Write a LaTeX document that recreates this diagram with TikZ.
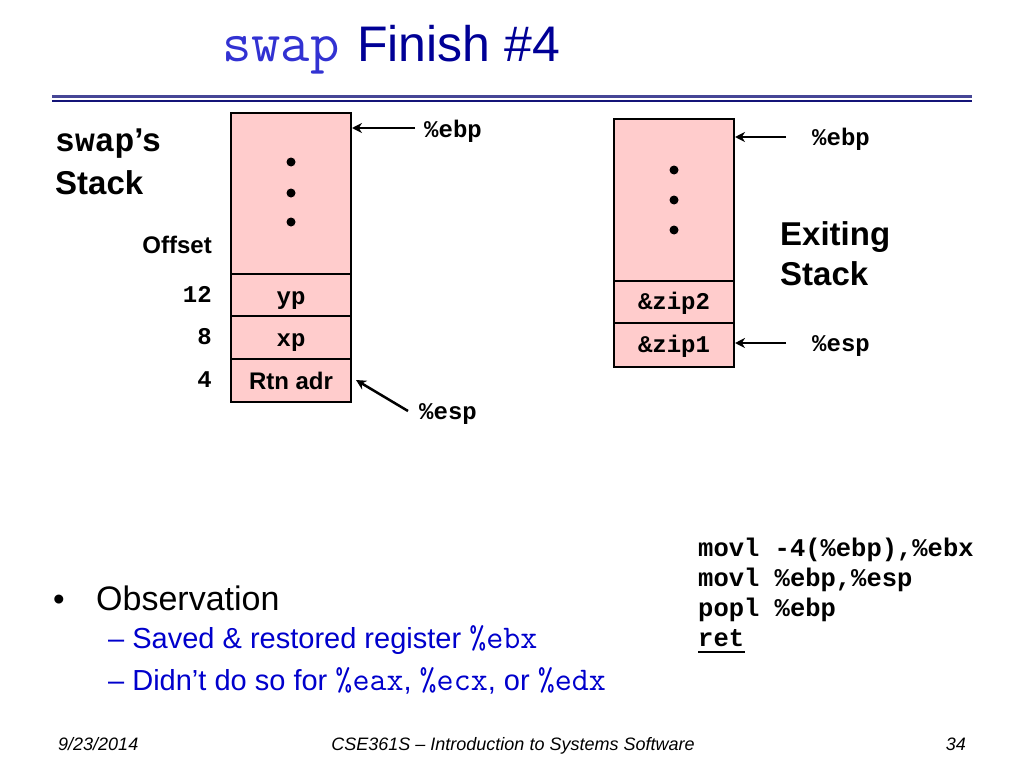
\documentclass[tikz,border=0pt]{standalone}
\usepackage{fontspec}
\setmainfont{Liberation Sans}
\setsansfont{Liberation Sans}
\setmonofont{Liberation Mono}
\newfontfamily\lmmono{Latin Modern Mono}[Scale=1.14]
\usetikzlibrary{arrows.meta}
\definecolor{navyT}{RGB}{0,0,150}
\definecolor{blueT}{RGB}{50,50,210}
\definecolor{bulblue}{RGB}{0,0,204}
\definecolor{cellpink}{RGB}{255,204,204}
\definecolor{rule1}{RGB}{70,70,150}
\definecolor{rule2}{RGB}{20,20,120}
\newcommand{\fs}[1]{\fontsize{#1}{#1}\selectfont}
\begin{document}
\begin{tikzpicture}[x=1pt,y=-1pt,
  cell/.style={draw=black,line width=2pt,fill=cellpink,minimum width=120pt,inner sep=0pt,font=\fs{24}\bfseries,text height=22pt,text depth=4pt},
  mcell/.style={cell,font=\fs{24}\ttfamily\bfseries},
  rcell/.style={mcell,text height=20pt,text depth=6pt},
  reglab/.style={font=\fs{24}\ttfamily\bfseries,inner sep=0pt},
  arr/.style={line width=2.5pt,-{Stealth[length=10pt,width=10pt]}},
  dotm/.style={circle,fill=black,inner sep=0pt,minimum size=9pt},
  offs/.style={anchor=base east,font=\fs{24}\ttfamily\bfseries,inner sep=0pt},
  txt/.style={inner sep=0pt,anchor=base west}]
\useasboundingbox (0,0) rectangle (1024,768);
% title
\node[txt,text=blueT,font=\fs{50}\lmmono] (title1) at (222,62) {swap};
\node[txt,text=navyT,font=\fs{50}\sffamily] (title2) at (357,62) {Finish \#4};
\draw[rule1,line width=3pt] (52,96.5) -- (972,96.5);
\draw[rule2,line width=2pt] (52,100.5) -- (972,100.5);
% left stack
\node[cell,minimum height=161pt] (ltop) at (291,193.5) {};
\node[mcell,minimum height=42pt] (lyp) at (291,295) {yp};
\node[mcell,minimum height=43pt] (lxp) at (291,337.5) {xp};
\node[cell,minimum height=43pt] (lrtn) at (291,380.5) {Rtn adr};
\node[dotm] (ld1) at (291,162) {};
\node[dotm] (ld2) at (291,193) {};
\node[dotm] (ld3) at (291,222) {};
\node[txt] (swaps) at (55,151) {\fs{33}\ttfamily\bfseries swap\sffamily’s};
\node[txt] (stackL) at (55,194) {\fs{33}\bfseries Stack};
\node[offs,font=\fs{24}\bfseries] (offset) at (212,253) {Offset};
\node[offs] (o12) at (212,302) {12};
\node[offs] (o8) at (212,344) {8};
\node[offs] (o4) at (212,387) {4};
\node[reglab,anchor=west] (ebpL) at (424,131) {\%ebp};
\coordinate (ebpLs) at (415,128);
\draw[arr] (ebpLs) -- (ebpLs -| ltop.east);
\node[reglab,anchor=west] (espL) at (419,414) {\%esp};
\coordinate (espLs) at (408,411);
\coordinate (espLe) at (356,380);
\draw[arr] (espLs) -- (espLe);
% right stack
\node[cell,minimum height=162pt] (rtop) at (674,200) {};
\node[rcell,minimum height=42pt] (rz2) at (674,302) {\&zip2};
\node[rcell,minimum height=44pt] (rz1) at (674,345) {\&zip1};
\node[dotm] (rd1) at (674,170) {};
\node[dotm] (rd2) at (674,200) {};
\node[dotm] (rd3) at (674,230) {};
\node[reglab,anchor=west] (ebpR) at (812,139) {\%ebp};
\coordinate (ebpRs) at (786,137);
\draw[arr] (ebpRs) -- (ebpRs -| rtop.east);
\node[reglab,anchor=west] (espR) at (812,346) {\%esp};
\coordinate (espRs) at (786,343);
\draw[arr] (espRs) -- (espRs -| rz1.east);
\node[txt] (exit1) at (780,245) {\fs{33}\bfseries Exiting};
\node[txt] (exit2) at (780,285) {\fs{33}\bfseries Stack};
% code
\node[txt,font=\fs{25.5}\ttfamily\bfseries] (c1) at (698,556) {movl -4(\%ebp),\%ebx};
\node[txt,font=\fs{25.5}\ttfamily\bfseries] (c2) at (698,586) {movl \%ebp,\%esp};
\node[txt,font=\fs{25.5}\ttfamily\bfseries] (c3) at (698,616) {popl \%ebp};
\node[txt,font=\fs{25.5}\ttfamily\bfseries] (c4) at (698,646) {ret};
\draw[line width=2pt] (698,652) -- (745,652);
% bullets
\node[txt] (b0) at (53,610) {\fs{33}•};
\node[txt] (b1) at (96,610) {\fs{34}Observation};
\node[txt,text=bulblue] (s1) at (108,648) {\fs{29}– Saved \& restored register {\lmmono\%ebx}};
\node[txt,text=bulblue] (s2) at (108,690) {\fs{29}– Didn’t do so for {\lmmono\%eax}, {\lmmono\%ecx}, or {\lmmono\%edx}};
% footer
\node[txt] (f1) at (58,750) {\fs{18}\itshape 9/23/2014};
\node[inner sep=0pt,anchor=base] (f2) at (513,750) {\fs{18}\itshape CSE361S – Introduction to Systems Software};
\node[inner sep=0pt,anchor=base east] (f3) at (966,750) {\fs{18}\itshape 34};
\end{tikzpicture}
\end{document}
